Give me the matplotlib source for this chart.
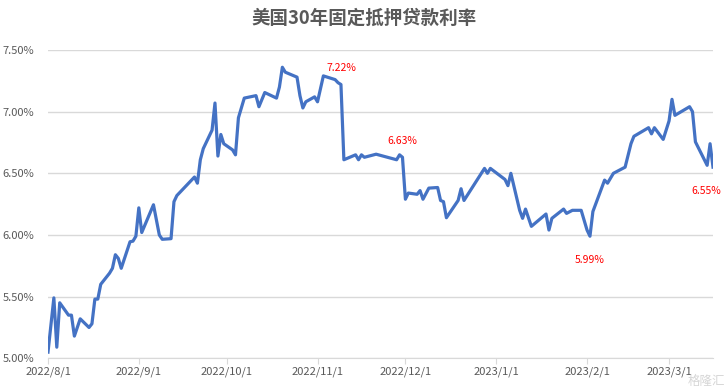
import matplotlib
matplotlib.use("Agg")
import matplotlib.pyplot as plt
import pandas as pd

plt.rcParams['font.family'] = ['Noto Sans CJK SC', 'DejaVu Sans']

# US 30-year fixed mortgage rate (%)
dates = [
    "2022-08-01", "2022-08-03", "2022-08-04", "2022-08-05", "2022-08-08", "2022-08-09",
    "2022-08-10", "2022-08-12", "2022-08-15", "2022-08-16", "2022-08-17", "2022-08-18",
    "2022-08-19", "2022-08-22", "2022-08-23", "2022-08-24", "2022-08-25", "2022-08-26",
    "2022-08-29", "2022-08-30", "2022-08-31", "2022-09-01", "2022-09-02", "2022-09-06",
    "2022-09-08", "2022-09-09", "2022-09-12", "2022-09-13", "2022-09-14", "2022-09-19",
    "2022-09-20", "2022-09-21", "2022-09-22", "2022-09-23", "2022-09-26", "2022-09-27",
    "2022-09-28", "2022-09-29", "2022-09-30", "2022-10-03", "2022-10-04", "2022-10-05",
    "2022-10-07", "2022-10-11", "2022-10-12", "2022-10-14", "2022-10-18", "2022-10-19",
    "2022-10-20", "2022-10-21", "2022-10-25", "2022-10-26", "2022-10-27", "2022-10-28",
    "2022-10-31", "2022-11-01", "2022-11-03", "2022-11-07", "2022-11-08", "2022-11-09",
    "2022-11-10", "2022-11-14", "2022-11-15", "2022-11-16", "2022-11-17", "2022-11-21",
    "2022-11-28", "2022-11-29", "2022-11-30", "2022-12-01", "2022-12-02", "2022-12-05",
    "2022-12-06", "2022-12-07", "2022-12-09", "2022-12-12", "2022-12-13", "2022-12-14",
    "2022-12-15", "2022-12-19", "2022-12-20", "2022-12-21", "2022-12-28", "2022-12-29",
    "2022-12-30", "2023-01-04", "2023-01-05", "2023-01-06", "2023-01-09", "2023-01-10",
    "2023-01-11", "2023-01-13", "2023-01-18", "2023-01-19", "2023-01-20", "2023-01-24",
    "2023-01-25", "2023-01-27", "2023-01-30", "2023-02-01", "2023-02-02", "2023-02-03",
    "2023-02-07", "2023-02-08", "2023-02-10", "2023-02-14", "2023-02-16", "2023-02-17",
    "2023-02-22", "2023-02-23", "2023-02-24", "2023-02-27", "2023-03-01", "2023-03-02",
    "2023-03-03", "2023-03-08", "2023-03-09", "2023-03-10", "2023-03-14", "2023-03-15",
    "2023-03-16",
]
rates = [
    5.05, 5.49, 5.09, 5.45, 5.35, 5.35,
    5.18, 5.32, 5.25, 5.28, 5.48, 5.48,
    5.60, 5.69, 5.73, 5.84, 5.81, 5.73,
    5.945, 5.95, 5.99, 6.22, 6.02, 6.245,
    6.00, 5.965, 5.97, 6.27, 6.32, 6.445,
    6.47, 6.42, 6.61, 6.70, 6.85, 7.07,
    6.64, 6.815, 6.74, 6.69, 6.65, 6.95,
    7.11, 7.13, 7.04, 7.155, 7.11, 7.20,
    7.36, 7.32, 7.28, 7.13, 7.03, 7.08,
    7.12, 7.08, 7.29, 7.26, 7.235, 7.22,
    6.61, 6.65, 6.61, 6.65, 6.63, 6.655,
    6.61, 6.65, 6.63, 6.29, 6.34, 6.33,
    6.36, 6.29, 6.38, 6.385, 6.28, 6.27,
    6.14, 6.28, 6.375, 6.28, 6.54, 6.50,
    6.54, 6.45, 6.40, 6.50, 6.20, 6.135,
    6.21, 6.07, 6.17, 6.04, 6.135, 6.21,
    6.175, 6.20, 6.20, 6.04, 5.99, 6.19,
    6.445, 6.42, 6.50, 6.55, 6.74, 6.80,
    6.87, 6.82, 6.87, 6.775, 6.925, 7.10,
    6.97, 7.04, 7.00, 6.755, 6.565, 6.74,
    6.55,
]

# labelled points (date, above/below)
label_dates = ["2022-11-09", "2022-11-30", "2023-02-02", "2023-03-16"]
label_pos = ["above", "above", "below", "below"]

tick_dates = ["2022-08-01", "2022-09-01", "2022-10-01", "2022-11-01",
              "2022-12-01", "2023-01-01", "2023-02-01", "2023-03-01"]
tick_labels = ["2022/8/1", "2022/9/1", "2022/10/1", "2022/11/1",
               "2022/12/1", "2023/1/1", "2023/2/1", "2023/3/1"]
y_ticks = [5.0, 5.5, 6.0, 6.5, 7.0, 7.5]

df = pd.DataFrame({"date": pd.to_datetime(dates), "rate": rates})

fig = plt.figure(figsize=(7.28, 3.92), dpi=100)
ax = fig.add_axes([48 / 728, 1 - 358.3 / 392, 665 / 728, 308.3 / 392])

ax.plot(df["date"], df["rate"], color="#4472C4", lw=2.3, solid_joinstyle="round")

ax.set_xlim(pd.Timestamp("2022-08-01"), pd.Timestamp("2023-03-16"))
ax.set_ylim(5.0, 7.5)
ax.set_yticks(y_ticks)
ax.set_yticklabels([f"{v:.2f}%" for v in y_ticks])
ax.set_xticks(pd.to_datetime(tick_dates))
ax.set_xticklabels(tick_labels)

ax.grid(axis="y", color="#d9d9d9", lw=1)
ax.set_axisbelow(True)
for s in ["left", "right", "top"]:
    ax.spines[s].set_visible(False)
ax.spines["bottom"].set_color("#d9d9d9")
ax.tick_params(axis="y", length=0, pad=10, labelsize=8, labelcolor="#595959")
ax.tick_params(axis="x", length=4, color="#d9d9d9", pad=2, labelsize=8, labelcolor="#595959")

for d, pos in zip(label_dates, label_pos):
    v = df.loc[df["date"] == pd.Timestamp(d), "rate"].iloc[0]
    off = 12 if pos == "above" else -17
    last = d == dates[-1]
    ax.annotate(f"{v:.2f}%", (pd.Timestamp(d), v), xytext=(6 if last else 0, off),
                textcoords="offset points", ha="right" if last else "center", va="center",
                color="#FF0000", fontsize=7.5, annotation_clip=False)

fig.text(0.5, 1 - 18 / 392, "美国30年固定抵押贷款利率", ha="center", va="center",
         fontsize=13.3, fontweight="bold", color="#595959")

# watermark
fig.text(706 / 728, 1 - 381 / 392, "格隆汇", ha="center", va="center",
         fontsize=9, color="#cccccc", alpha=0.8)

fig.savefig("out.png", dpi=100)
